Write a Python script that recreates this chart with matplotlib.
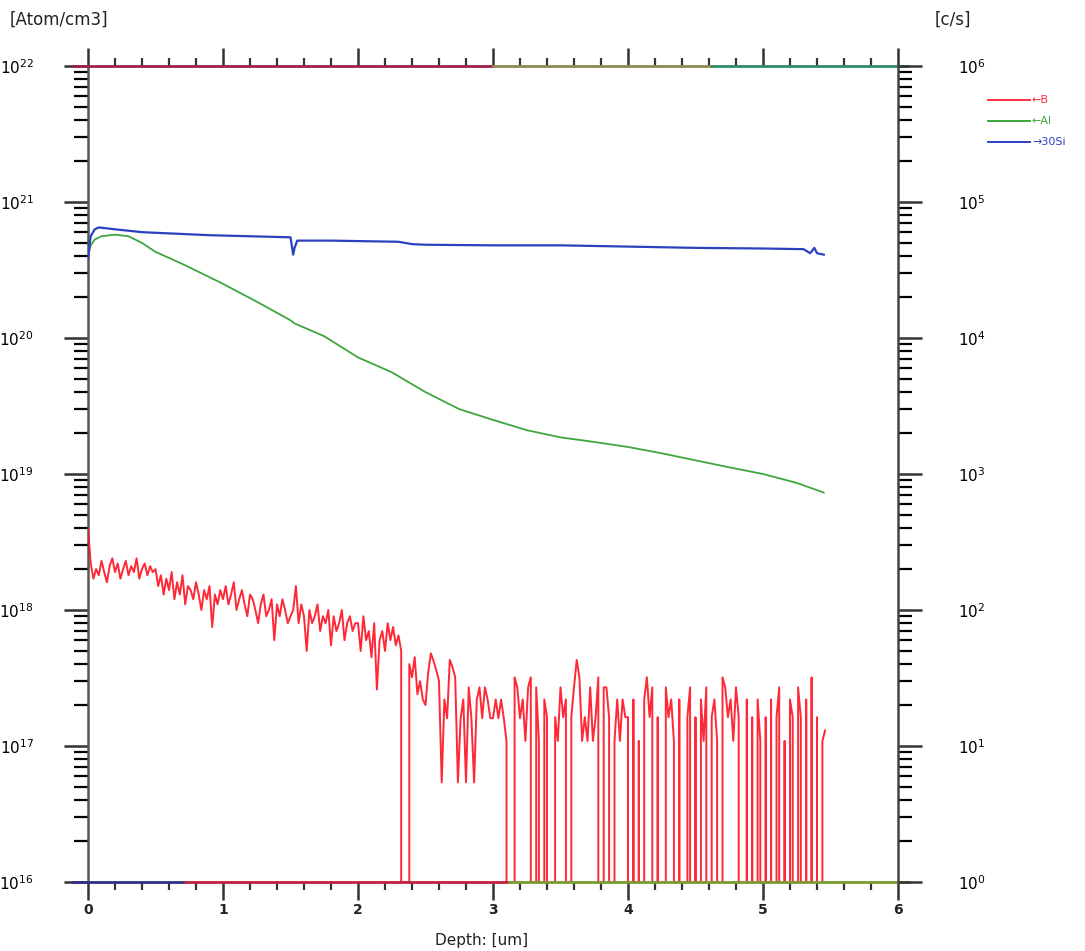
import numpy as np
import matplotlib
matplotlib.use("Agg")
import matplotlib.pyplot as plt
from matplotlib.ticker import FixedLocator, LogLocator, FuncFormatter, NullFormatter
from matplotlib.lines import Line2D

# ---------------- data ----------------
# Boron (left axis, atoms/cm3, in units of 1e17), sampled every 0.02 um
b_step_um = 0.02
b_conc_e17 = [
    40, 22, 17, 20, 18, 23, 19, 16, 21, 24, 19, 22, 17, 20, 23, 18, 21, 19, 24, 17, 20, 22, 18, 21, 19,
    20, 15, 18, 13, 17, 14, 19, 12, 16, 13, 18, 11, 15, 14, 12, 16, 13, 10, 14, 12, 15, 7.5, 13, 11, 14,
    12, 15, 11, 13, 16, 10, 12, 14, 11, 9, 13, 12, 10, 8, 11, 13, 9, 10, 12, 6, 11, 9, 12, 10, 8,
    9, 10, 15, 8, 11, 9, 5, 10, 8, 9, 11, 7, 9, 8, 10, 5.5, 9, 7, 8, 10, 6, 8, 9, 7, 8,
    8, 5, 9, 6, 7, 4.5, 8, 2.6, 6, 7, 5, 8, 6, 7.5, 5.5, 6.5, 5, 0, 0, 4, 3.2, 4.5, 2.4, 3, 2.2,
    2.0, 3.5, 4.8, 4.2, 3.6, 3.0, 0.54, 2.2, 1.6, 4.3, 3.8, 3.2, 0.54, 1.6, 2.2, 0.54, 2.7, 1.6, 0.54, 2.2, 2.7, 1.6, 2.7, 2.2, 1.6,
    1.6, 2.2, 1.6, 2.2, 1.6, 1.09, 0, 0, 3.2, 2.7, 1.6, 2.2, 1.09, 2.7, 3.2, 0, 2.7, 1.09, 0, 2.2, 1.63, 0, 0, 1.63, 1.09,
    2.7, 1.63, 2.2, 0, 1.63, 2.7, 4.3, 3.2, 1.09, 1.63, 1.09, 2.7, 1.09, 1.63, 3.2, 0, 2.7, 2.7, 1.63, 0, 1.09, 2.2, 1.09, 2.2, 1.63,
    1.63, 0, 2.2, 0, 1.09, 0, 2.2, 3.2, 1.63, 2.7, 0, 1.63, 0, 0, 2.7, 1.63, 2.2, 1.09, 0, 2.2, 0, 0, 1.63, 2.7, 0,
    1.63, 0, 2.2, 1.09, 2.7, 0, 1.63, 2.2, 1.09, 0, 3.2, 2.7, 1.63, 2.2, 1.09, 2.7, 1.63, 0, 0, 2.2, 0, 1.63, 0, 2.2, 1.09,
    0, 1.63, 0, 2.2, 0, 1.63, 2.7, 0, 1.09, 0, 2.2, 1.63, 0, 2.7, 1.63, 0, 2.2, 0, 3.2, 0, 1.63, 0, 1.09, 1.3,
]

# Aluminium (left axis, atoms/cm3)
al_depth = [0.0, 0.02, 0.05, 0.1, 0.2, 0.3, 0.4, 0.5, 0.7, 0.9, 1.0, 1.25, 1.5, 1.53, 1.75, 2.0,
            2.25, 2.5, 2.75, 3.0, 3.25, 3.5, 3.75, 4.0, 4.25, 4.5, 4.75, 5.0, 5.25, 5.45]
al_conc = [4.0e20, 4.8e20, 5.3e20, 5.6e20, 5.75e20, 5.6e20, 5.0e20, 4.3e20, 3.5e20, 2.8e20, 2.5e20,
           1.85e20, 1.35e20, 1.28e20, 1.03e20, 7.2e19, 5.6e19, 4.0e19, 3.0e19, 2.5e19, 2.1e19,
           1.86e19, 1.72e19, 1.58e19, 1.42e19, 1.26e19, 1.12e19, 1.0e19, 8.6e18, 7.3e18]

# 30Si (right axis, counts/s)
si_depth = [0.0, 0.02, 0.05, 0.08, 0.2, 0.4, 0.9, 1.2, 1.5, 1.52, 1.53, 1.55, 1.8, 2.3, 2.4, 2.5,
            3.0, 3.5, 4.0, 4.5, 5.0, 5.3, 5.35, 5.38, 5.4, 5.45]
si_cps = [3.9e4, 5.6e4, 6.3e4, 6.5e4, 6.3e4, 6.0e4, 5.7e4, 5.6e4, 5.5e4, 4.1e4, 4.6e4, 5.2e4, 5.2e4,
          5.1e4, 4.9e4, 4.85e4, 4.8e4, 4.8e4, 4.7e4, 4.6e4, 4.55e4, 4.5e4, 4.2e4, 4.6e4, 4.2e4, 4.1e4]

x_major = [0, 1, 2, 3, 4, 5, 6]
left_exps = [16, 17, 18, 19, 20, 21, 22]
right_exps = [0, 1, 2, 3, 4, 5, 6]

# ---------------- figure ----------------
W, H = 1085, 951
fig = plt.figure(figsize=(W / 100, H / 100), dpi=100)
L, R, T, B = 88 / W, 898 / W, 1 - 66 / H, 1 - 882 / H
ax = fig.add_axes([L, B, R - L, T - B])
ax2 = ax.twinx()

b_depth = np.arange(len(b_conc_e17)) * b_step_um
b_vals = np.array(b_conc_e17) * 1e17
ax.plot(b_depth, b_vals, color="#ff1020", lw=1.4, alpha=0.9, zorder=3)
ax.plot(al_depth, al_conc, color="#3fa63c", lw=1.3, zorder=4)
ax2.plot(si_depth, si_cps, color="#2a42c0", lw=1.6, zorder=5)

ax.set_yscale("log")
ax2.set_yscale("log")
ax.set_xlim(0, 6)
ax.set_ylim(1e16, 1e22)
ax2.set_ylim(1e0, 1e6)

# spines
for a in (ax, ax2):
    for s in a.spines.values():
        s.set_visible(False)
ax.spines["left"].set_visible(True)
ax.spines["left"].set_color("#555555")
ax.spines["left"].set_linewidth(1.8)
ax2.spines["right"].set_visible(True)
ax2.spines["right"].set_color("#444444")
ax2.spines["right"].set_linewidth(1.8)

top_segs = [(0.0, 0.5, "#a02050"), (0.5, 0.77, "#8c8c50"), (0.77, 1.0, "#2e8b6e")]
bot_segs = [(0.0, 0.12, "#303080"), (0.12, 0.52, "#c02040"), (0.52, 1.0, "#7a9a30")]
for x0, x1, c in top_segs:
    ax.plot([x0, x1], [1, 1], transform=ax.transAxes, color=c, lw=2, clip_on=False, zorder=6)
for x0, x1, c in bot_segs:
    ax.plot([x0, x1], [0, 0], transform=ax.transAxes, color=c, lw=2, clip_on=False, zorder=6)
ax.plot([-0.018, 0], [1, 1], transform=ax.transAxes, color="#a02050", lw=2, clip_on=False)
ax.plot([-0.018, 0], [0, 0], transform=ax.transAxes, color="#303080", lw=2, clip_on=False)
ax.plot([1, 1.012], [1, 1], transform=ax.transAxes, color="#2e8b6e", lw=2, clip_on=False)
ax.plot([1, 1.012], [0, 0], transform=ax.transAxes, color="#7a9a30", lw=2, clip_on=False)

# x ticks (top and bottom, outward)
ax.xaxis.set_major_locator(FixedLocator(x_major))
ax.xaxis.set_minor_locator(FixedLocator(np.arange(0, 6.01, 0.2)))
ax.tick_params(axis="x", which="major", direction="out", length=13, width=1.8,
               color="#333333", top=True, bottom=True, labelsize=10, pad=2)
ax.tick_params(axis="x", which="minor", direction="out", length=6, width=1.6,
               color="#333333", top=True, bottom=True)
ax.set_xticklabels([str(v) for v in x_major], fontweight="bold", color="#222222")

# y ticks
fmt_left = FuncFormatter(lambda v, p: r"$\mathregular{10^{%d}}$" % round(np.log10(v)))
ax.yaxis.set_major_locator(FixedLocator([10.0 ** e for e in left_exps]))
ax.yaxis.set_minor_locator(LogLocator(base=10, subs=np.arange(2, 10), numticks=20))
ax.yaxis.set_major_formatter(fmt_left)
ax.yaxis.set_minor_formatter(NullFormatter())
ax.tick_params(axis="y", which="major", direction="out", length=17, width=1.8,
               color="#333333", labelsize=11, pad=22)
ax.tick_params(axis="y", which="minor", direction="out", length=10, width=1.6)

ax2.yaxis.set_major_locator(FixedLocator([10.0 ** e for e in right_exps]))
ax2.yaxis.set_minor_locator(LogLocator(base=10, subs=np.arange(2, 10), numticks=20))
ax2.yaxis.set_major_formatter(fmt_left)
ax2.yaxis.set_minor_formatter(NullFormatter())
ax2.tick_params(axis="y", which="major", direction="out", length=17, width=1.8,
                color="#333333", labelsize=11, pad=26)
ax2.tick_params(axis="y", which="minor", direction="out", length=10, width=1.6)

tick_palette = ["#2a2a80", "#7a2a80", "#8a8a30", "#2a2a2a", "#2a8a7a", "#c03040", "#303090", "#6a6a20"]
for a in (ax, ax2):
    for i, t in enumerate(a.yaxis.get_minor_ticks()):
        c = tick_palette[i % len(tick_palette)]
        t.tick1line.set_color(c)
        t.tick2line.set_color(c)

# axis titles
fig.text(10 / W, 1 - 20 / H, "[Atom/cm3]", fontsize=12, ha="left", va="center", color="#222222")
fig.text(935 / W, 1 - 20 / H, "[c/s]", fontsize=12, ha="left", va="center", color="#222222")
fig.text(482 / W, 1 - 940 / H, "Depth: [um]", fontsize=11, ha="center", va="center", color="#222222")

# legend
leg = [("\u2190B", "#ff3040"), ("\u2190Al", "#3fa63c"), ("\u219230Si", "#2a42c0")]
for i, (lab, c) in enumerate(leg):
    yy = 1 - (100 + i * 21) / H
    fig.add_artist(Line2D([988 / W, 1030 / W], [yy, yy], color=c, lw=1.4))
    fig.text(1032 / W, yy, lab, fontsize=8, color=c, ha="left", va="center")

fig.savefig("out.png", dpi=100)
